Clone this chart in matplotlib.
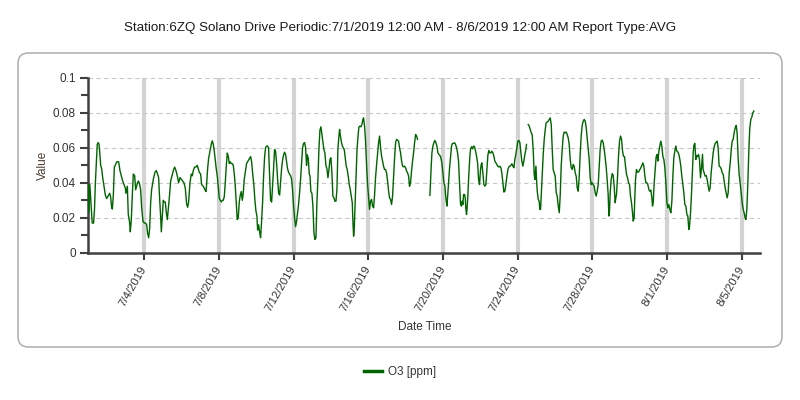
import numpy as np
import pandas as pd
import matplotlib
matplotlib.use("Agg")
import matplotlib.pyplot as plt
from matplotlib.patches import FancyBboxPatch
from matplotlib.lines import Line2D

plt.rcParams['font.family'] = ['Liberation Sans', 'DejaVu Sans']

title = "Station:6ZQ Solano Drive Periodic:7/1/2019 12:00 AM - 8/6/2019 12:00 AM Report Type:AVG"
start = "2019-07-01"
end = "2019-08-06"
series_name = "O3 [ppm]"

# hours since 7/1/2019 00:00 and O3 values (nan = gap)
hours_1 = [0, 0.8, 2.0, 3.5, 5.0, 6.8, 8.0, 9.0, 10.2, 11.5, 12.8, 13.8, 14.6, 15.9, 17.2, 18.5, 20.2, 21.9, 23.6,
           24.9, 26.2, 27.5, 28.7, 30.0, 30.9, 32.2, 33.5, 34.7, 36.5, 39.0, 40.7, 42.4, 44.2, 45.9, 47.6, 48.4,
           50.2, 51.4, 53.2, 54.0, 55.3, 56.6, 57.9, 59.6, 60.9, 62.6, 64.3, 65.6, 67.3, 68.6, 70.3, 72.0, 73.7,
           75.0, 76.3, 77.6, 78.9, 80.2, 81.4, 83.6, 85.7, 87.4, 89.1, 90.4, 91.7, 93.0, 93.9, 95.1, 96.4, 97.7,
           99.0, 100.3, 101.6, 102.9, 104.1, 105.9, 107.6, 109.3, 111.0, 112.7, 114.4, 116.1, 117.9, 119.6, 121.3,
           123.0, 124.7, 126.4, 127.7, 129.0, 130.7, 132.4, 133.7, 135.0, 136.7, 138.4, 140.1, 141.4, 142.7]
o3_1 = [0.039, 0.023, 0.039, 0.028, 0.017, 0.017, 0.025, 0.039, 0.050, 0.062, 0.063, 0.062, 0.058, 0.050, 0.048,
        0.043, 0.038, 0.033, 0.031, 0.032, 0.033, 0.034, 0.032, 0.026, 0.025, 0.033, 0.049, 0.050, 0.052, 0.052,
        0.047, 0.044, 0.041, 0.039, 0.037, 0.034, 0.038, 0.022, 0.017, 0.012, 0.019, 0.033, 0.045, 0.044, 0.036,
        0.039, 0.041, 0.040, 0.036, 0.026, 0.018, 0.017, 0.017, 0.016, 0.011, 0.0086, 0.014, 0.029, 0.036, 0.042,
        0.046, 0.047, 0.045, 0.043, 0.031, 0.021, 0.012, 0.021, 0.030, 0.029, 0.029, 0.023, 0.019, 0.025, 0.031,
        0.041, 0.044, 0.047, 0.049, 0.047, 0.044, 0.040, 0.043, 0.042, 0.041, 0.040, 0.037, 0.028, 0.026, 0.029,
        0.040, 0.045, 0.044, 0.047, 0.049, 0.049, 0.050, 0.048, 0.046]

hours_2 = [144.4, 145.7, 147.8, 150.0, 151.3, 152.1, 153.4, 154.7, 156.4, 158.1, 159.4, 160.7, 162.0, 163.3, 164.5,
           165.8, 167.1, 168.4, 169.7, 171.0, 172.3, 173.5, 174.8, 176.1, 177.4, 178.7, 180.0, 181.3, 182.5, 183.8,
           185.1, 186.4, 187.7, 189.0, 190.2, 191.5, 192.8, 194.1, 195.4, 196.7, 198.0, 199.2, 200.5, 201.8, 203.5,
           204.8, 206.1, 207.4, 208.7, 210.0, 211.2, 213.0, 214.2, 215.5, 216.8, 217.7, 219.0, 220.2, 221.5, 222.8,
           224.1, 225.4, 226.7, 227.9, 229.2, 230.5, 231.8, 233.1, 234.4, 235.7, 236.9, 238.2, 239.5, 240.8, 242.1,
           243.4, 244.7, 246.0, 247.2, 248.5, 249.8, 251.1, 252.4, 253.7, 254.9, 256.2, 257.5, 258.8, 260.1, 261.4,
           262.6, 263.9, 265.2, 266.5, 267.8, 269.1, 270.4, 271.6, 272.9, 274.2, 275.5, 276.8, 278.1, 279.4, 280.6,
           281.5, 282.8, 284.1]
o3_2 = [0.045, 0.039, 0.038, 0.036, 0.035, 0.039, 0.048, 0.054, 0.058, 0.062, 0.064, 0.062, 0.058, 0.053, 0.048,
        0.044, 0.038, 0.031, 0.030, 0.029, 0.030, 0.030, 0.032, 0.040, 0.0495, 0.057, 0.055, 0.051, 0.052, 0.051,
        0.051, 0.050, 0.045, 0.038, 0.029, 0.019, 0.020, 0.029, 0.033, 0.035, 0.030, 0.034, 0.042, 0.046, 0.051,
        0.052, 0.053, 0.054, 0.055, 0.052, 0.046, 0.038, 0.030, 0.024, 0.021, 0.013, 0.016, 0.012, 0.0086, 0.018,
        0.029, 0.044, 0.055, 0.060, 0.061, 0.061, 0.060, 0.044, 0.030, 0.029, 0.038, 0.048, 0.059, 0.058, 0.051,
        0.042, 0.034, 0.033, 0.040, 0.048, 0.053, 0.056, 0.0575, 0.056, 0.052, 0.048, 0.046, 0.045, 0.044, 0.042,
        0.036, 0.027, 0.020, 0.015, 0.018, 0.023, 0.028, 0.034, 0.042, 0.051, 0.060, 0.0625, 0.063, 0.060, 0.050,
        0.056, 0.054, 0.045]

hours_3 = [285.0, 286.2, 287.5, 288.8, 290.1, 291.4, 292.7, 293.9, 295.2, 296.5, 297.8, 299.1, 300.4, 301.7, 302.9,
           304.2, 305.5, 306.8, 308.1, 309.4, 310.7, 311.9, 313.2, 314.5, 315.8, 317.1, 318.4, 319.7, 320.9, 322.2,
           323.1, 323.9, 325.2, 326.5, 327.8, 329.1, 330.4, 331.6, 332.9, 334.2, 335.5, 336.8, 338.1, 339.4, 340.2,
           341.1, 341.9, 342.8, 344.1, 345.4, 346.6, 347.9, 349.2, 350.5, 351.8, 353.1, 353.9, 355.2, 356.5, 357.8,
           359.1, 360.4, 361.6, 362.9, 364.2, 365.5, 366.8, 368.1, 369.3, 370.6, 371.9, 373.2, 374.5, 375.8, 377.1,
           378.3, 379.6, 380.9, 382.2, 383.5, 384.8, 386.1, 387.3, 388.6, 389.9, 391.2, 392.5, 393.8, 395.1, 396.3,
           397.6, 398.9, 400.2, 401.5, 402.8, 404.1, 405.3, 406.6, 407.9, 409.2, 410.5, 411.8, 413.0, 414.3, 415.6,
           416.9, 418.2, 419.5, 420.8, 422.1, 423.3, 430.0]
o3_3 = [0.044, 0.035, 0.034, 0.0267, 0.0114, 0.0076, 0.0086, 0.0286, 0.042, 0.059, 0.070, 0.072, 0.0676, 0.0629,
        0.059, 0.057, 0.050, 0.048, 0.0429, 0.0476, 0.0533, 0.0543, 0.0457, 0.0324, 0.0314, 0.0295, 0.0295, 0.0362,
        0.059, 0.0667, 0.0705, 0.0676, 0.0638, 0.0613, 0.060, 0.059, 0.054, 0.0495, 0.0476, 0.0438, 0.039, 0.0362,
        0.0324, 0.0286, 0.0181, 0.0095, 0.0133, 0.0248, 0.0429, 0.058, 0.0657, 0.0718, 0.0724, 0.0720, 0.0733,
        0.0762, 0.0771, 0.0724, 0.0638, 0.050, 0.039, 0.0314, 0.0248, 0.0295, 0.0305, 0.0267, 0.0257, 0.0333,
        0.0429, 0.050, 0.0562, 0.0629, 0.0667, 0.060, 0.0552, 0.0524, 0.0495, 0.0476, 0.0476, 0.0457, 0.041,
        0.0352, 0.0314, 0.0305, 0.0276, 0.0324, 0.0438, 0.0543, 0.0629, 0.0648, 0.0644, 0.0638, 0.060, 0.0571,
        0.0524, 0.0495, 0.0491, 0.0495, 0.0486, 0.0467, 0.0457, 0.0438, 0.038, 0.040, 0.0467, 0.0524, 0.0571,
        0.0629, 0.0676, 0.0667, 0.0648, np.nan]

hours_4 = [439.2, 440.1, 440.9, 441.8, 443.1, 444.3, 445.6, 446.9, 448.2, 449.5, 450.8, 452.1, 453.3, 454.6, 455.9,
           457.2, 458.5, 459.3, 460.2, 461.1, 461.9, 463.2, 464.5, 465.8, 467.1, 468.3, 469.6, 470.9, 472.2, 473.5,
           474.8, 476.0, 476.9, 477.8, 478.6, 479.9, 480.8, 481.6, 482.5, 483.8, 484.6, 485.5, 486.3, 487.2, 488.0,
           488.9, 489.8, 490.6, 491.5, 492.8, 494.0, 495.3, 496.6, 497.9, 499.2, 500.5, 501.8, 503.0, 504.3, 505.2,
           506.0, 506.9, 507.7, 508.6, 509.9, 511.2, 512.5, 513.7, 515.0, 516.3, 517.6, 518.9, 520.2, 521.5, 522.7,
           524.0, 525.3, 526.6, 527.9, 529.2, 530.5, 531.7, 533.0, 534.3, 535.6, 536.9, 538.2, 539.5, 540.7, 542.0,
           543.3, 544.6, 545.9, 547.2, 548.4, 549.7, 551.0, 552.3, 553.6, 554.9, 556.2, 557.4, 558.7, 560.0, 561.3,
           562.6, 563.4, 564.5]
o3_4 = [0.0328, 0.0419, 0.0495, 0.0571, 0.061, 0.0629, 0.0642, 0.0629, 0.061, 0.0571, 0.0562, 0.0556, 0.0543,
        0.0514, 0.0457, 0.040, 0.0381, 0.0333, 0.0295, 0.0267, 0.0314, 0.040, 0.0486, 0.0552, 0.0613, 0.0625,
        0.0625, 0.0629, 0.0619, 0.060, 0.0571, 0.0524, 0.0438, 0.0352, 0.0276, 0.0267, 0.0295, 0.0276, 0.0333,
        0.0333, 0.0314, 0.0248, 0.0219, 0.0267, 0.0324, 0.0419, 0.0495, 0.0552, 0.0594, 0.0606, 0.0594, 0.061,
        0.0606, 0.0581, 0.0552, 0.0514, 0.0419, 0.039, 0.0476, 0.0505, 0.0514, 0.0476, 0.0438, 0.039, 0.0381,
        0.039, 0.0476, 0.0556, 0.0585, 0.0571, 0.0571, 0.0581, 0.0571, 0.0552, 0.0524, 0.0514, 0.0505, 0.0495,
        0.049, 0.0495, 0.0486, 0.0457, 0.040, 0.0347, 0.0352, 0.039, 0.0438, 0.0476, 0.0491, 0.0495, 0.0499,
        0.0509, 0.0495, 0.0486, 0.0533, 0.0562, 0.060, 0.0638, 0.0642, 0.0629, 0.0571, 0.0524, 0.0495, 0.0524,
        0.0562, 0.059, 0.0619, np.nan]

hours_5 = [565.6, 566.9, 568.2, 569.5, 570.7, 572.0, 573.3, 574.2, 575.5, 576.3, 577.2, 578.5, 579.7, 580.6, 581.5,
           582.3, 583.6, 584.9, 586.2, 587.5, 588.7, 590.0, 591.3, 592.6, 593.9, 595.2, 596.5, 597.7, 599.0, 600.3,
           601.6, 602.9, 604.2, 605.5, 606.7, 608.0, 609.3, 610.6, 611.9, 613.2, 614.4, 615.7, 617.0, 618.3, 619.6,
           620.9, 622.2, 623.4, 624.7, 626.0, 627.3, 628.6, 629.9, 631.2, 632.4, 633.7, 635.0, 636.3, 637.6, 638.9,
           640.2, 641.4, 642.7, 644.0, 645.3, 646.6, 647.9, 649.1, 650.4, 651.7, 653.0, 654.3, 655.6, 656.9, 658.1,
           659.4, 660.7, 662.0, 663.3, 664.6, 665.9, 667.1, 668.4, 669.3, 670.1, 671.0, 672.3, 673.6, 674.9, 676.1,
           677.4, 678.3, 679.1, 680.4, 681.7, 683.0, 684.3, 685.6, 686.9, 688.1, 689.4, 690.7, 692.0, 693.3, 694.6,
           695.9, 697.1, 698.4, 699.7, 700.6, 701.8, 702.7, 703.6, 704.8, 706.1, 707.4]
o3_5 = [0.0733, 0.0724, 0.0705, 0.0686, 0.0676, 0.059, 0.0448, 0.0419, 0.0495, 0.0419, 0.0352, 0.0305, 0.0295,
        0.0248, 0.0248, 0.0324, 0.0438, 0.0562, 0.0648, 0.0705, 0.0743, 0.0747, 0.0752, 0.0762, 0.0771, 0.0733,
        0.059, 0.0476, 0.0457, 0.0438, 0.0343, 0.0324, 0.0267, 0.0229, 0.0324, 0.0495, 0.059, 0.0667, 0.069,
        0.0686, 0.069, 0.0676, 0.0657, 0.0619, 0.0533, 0.0486, 0.0476, 0.0505, 0.0495, 0.0457, 0.0438, 0.0371,
        0.0352, 0.0438, 0.0562, 0.0667, 0.0728, 0.0752, 0.0762, 0.0752, 0.0714, 0.0657, 0.059, 0.0533, 0.0429,
        0.039, 0.040, 0.039, 0.0381, 0.0343, 0.0324, 0.0352, 0.039, 0.0495, 0.059, 0.0638, 0.0644, 0.0629, 0.059,
        0.0543, 0.0486, 0.0419, 0.0333, 0.021, 0.0238, 0.0343, 0.0419, 0.0453, 0.0442, 0.0381, 0.0286, 0.0314,
        0.0333, 0.0429, 0.0552, 0.0638, 0.0667, 0.0648, 0.0581, 0.0552, 0.0549, 0.0495, 0.0448, 0.0429, 0.040,
        0.039, 0.0324, 0.0286, 0.0229, 0.0181, 0.020, 0.0324, 0.0419, 0.0476, 0.0461, 0.0461]

hours_6 = [710.4, 711.7, 713.0, 714.3, 715.6, 716.9, 718.2, 719.4, 720.7, 722.0, 723.3, 724.6, 725.4, 726.3, 727.6,
           728.9, 730.1, 731.4, 732.3, 733.6, 734.9, 736.1, 737.4, 738.7, 740.0, 741.3, 742.6, 743.9, 745.1, 746.4,
           747.7, 749.0, 750.3, 751.6, 752.8, 754.1, 755.4, 756.7, 758.0, 759.3, 760.6, 761.8, 763.1, 764.4, 765.7,
           767.0, 768.3, 769.6, 770.8, 772.1, 773.0, 774.3, 775.5, 776.8, 777.7, 778.6, 779.8, 781.1, 782.0, 783.3,
           784.6, 785.8, 787.1, 788.4, 789.7, 790.5, 791.8, 793.1, 794.4, 795.7, 797.0, 798.3, 799.5, 800.8, 802.1,
           803.4, 804.7, 806.0, 807.3, 808.5, 809.8, 811.1, 812.4, 813.7, 815.0, 816.3, 817.5, 818.8, 820.1, 821.4,
           822.7, 824.0, 825.3, 826.5, 827.8, 829.1, 830.4, 831.7, 833.0, 834.2, 835.5, 836.8, 838.1, 839.4, 840.7,
           842.0, 843.2, 844.5, 845.4, 846.7, 848.0, 849.3, 850.5, 851.8, 853.1, 854.4, 855.7]
o3_6 = [0.0486, 0.0499, 0.0514, 0.0495, 0.0438, 0.040, 0.040, 0.039, 0.0362, 0.0352, 0.0358, 0.0314, 0.0267,
        0.0286, 0.040, 0.0476, 0.0549, 0.0562, 0.0524, 0.0581, 0.0613, 0.0638, 0.061, 0.0552, 0.0533, 0.0486,
        0.040, 0.0286, 0.0257, 0.0276, 0.0248, 0.0229, 0.0295, 0.0438, 0.0543, 0.0581, 0.061, 0.0581, 0.0576,
        0.0562, 0.0533, 0.0495, 0.0438, 0.039, 0.0343, 0.0276, 0.0267, 0.0219, 0.021, 0.0133, 0.0152, 0.0229,
        0.0333, 0.0467, 0.0571, 0.0614, 0.0625, 0.0533, 0.0556, 0.0549, 0.0562, 0.0533, 0.0429, 0.0486, 0.0562,
        0.0476, 0.0457, 0.0438, 0.0442, 0.0419, 0.0381, 0.0352, 0.0371, 0.0457, 0.0514, 0.0571, 0.0606, 0.0625,
        0.0632, 0.0638, 0.060, 0.0495, 0.0491, 0.048, 0.0457, 0.0448, 0.041, 0.0371, 0.0343, 0.0314, 0.0343,
        0.0457, 0.0514, 0.0581, 0.0638, 0.0648, 0.0686, 0.0714, 0.0728, 0.0686, 0.0543, 0.0448, 0.040, 0.0343,
        0.0286, 0.0248, 0.0229, 0.020, 0.019, 0.0248, 0.040, 0.059, 0.0714, 0.0762, 0.0775, 0.080, 0.081]

tick_labels = ['7/4/2019', '7/8/2019', '7/12/2019', '7/16/2019', '7/20/2019',
               '7/24/2019', '7/28/2019', '8/1/2019', '8/5/2019']
y_ticks = [0, 0.02, 0.04, 0.06, 0.08, 0.1]
y_labels = ['0', '0.02', '0.04', '0.06', '0.08', '0.1']

hours = hours_1 + hours_2 + hours_3 + hours_4 + hours_5 + hours_6
o3 = o3_1 + o3_2 + o3_3 + o3_4 + o3_5 + o3_6
times = pd.Timestamp(start) + pd.to_timedelta(hours, unit='h')

text_color = '#333333'

fig = plt.figure(figsize=(8, 4), dpi=100)

# rounded frame around chart area
frame = FancyBboxPatch((18 / 800, 1 - 347 / 400), 764 / 800, 294 / 400,
                       boxstyle="round,pad=0,rounding_size=0.013", mutation_aspect=2,
                       transform=fig.transFigure, facecolor='none', edgecolor='#b4b4b4', lw=1.2)
fig.patches.append(frame)

fig.text(0.5, 1 - 28 / 400, title, ha='center', va='center', fontsize=9.6, color='#1a1a1a')

ax = fig.add_axes([88.3 / 800, 0.368, 672 / 800, 0.4375])
ax.plot(times, o3, color='#006400', lw=1.0, zorder=3)

ax.set_xlim(pd.Timestamp(start), pd.Timestamp(end))
ax.set_ylim(0, 0.1)

tick_dates = pd.to_datetime(tick_labels, format='%m/%d/%Y')
ax.set_xticks(tick_dates)
ax.set_xticklabels(tick_labels, rotation=60, ha='right', va='center', rotation_mode='anchor',
                   fontsize=8.2, color=text_color)
ax.set_yticks(y_ticks)
ax.set_yticklabels(y_labels, fontsize=8.5, color=text_color)
ax.set_yticks(np.arange(0.01, 0.1, 0.02), minor=True)

for d in tick_dates:
    ax.axvline(d, color='#d3d3d3', lw=3, zorder=1)
for y in y_ticks[1:]:
    ax.axhline(y, color='#c8c8c8', lw=0.8, ls=(0, (4, 3)), zorder=1)

for s in ['top', 'right']:
    ax.spines[s].set_visible(False)
for s in ['left', 'bottom']:
    ax.spines[s].set_color('#404040')
    ax.spines[s].set_linewidth(1.8)
ax.tick_params(axis='y', which='major', length=6, width=1.5, color='#404040', pad=3)
ax.tick_params(axis='y', which='minor', length=5, width=1.5, color='#404040')
ax.tick_params(axis='x', which='major', length=5, width=1.5, color='#404040', pad=5)

ax.set_ylabel('Value', fontsize=8.5, color='#4a3a30', labelpad=3)
ax.set_xlabel('Date Time', fontsize=8.5, color=text_color)
ax.xaxis.set_label_coords(0.5, -0.39)

handle = Line2D([0], [0], color='#006400', lw=2.5)
fig.legend([handle], [series_name], loc='center', bbox_to_anchor=(0.5, 1 - 372 / 400),
           frameon=False, fontsize=8.5, handlelength=1.6, handletextpad=0.5, labelcolor=text_color)

fig.savefig('out.png', dpi=100)
